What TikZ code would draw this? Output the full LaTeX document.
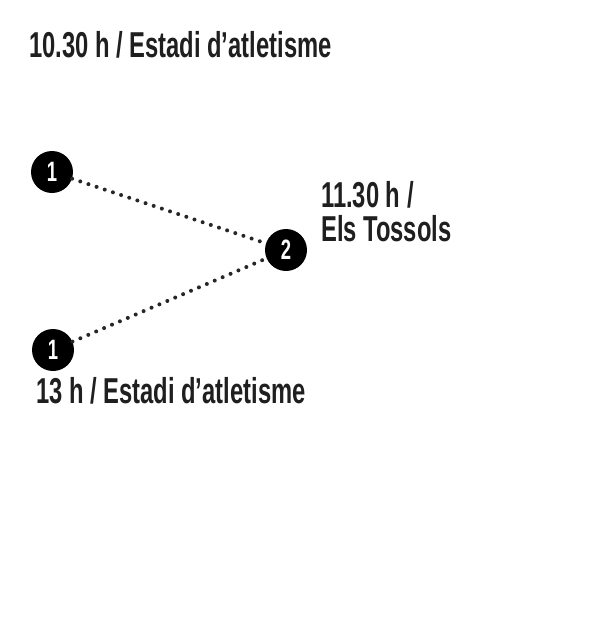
\documentclass[tikz,border=0pt]{standalone}
\usepackage{fontspec}
\setmainfont{Liberation Sans}[FakeStretch=0.66,UprightFont=*-Bold]
\newfontfamily\numfont{Liberation Sans}[FakeStretch=0.66,UprightFont=*-Bold]
\begin{document}
\begin{tikzpicture}[x=1pt,y=-1pt,
  stop/.style={circle,fill=black,minimum size=42pt,inner sep=0pt,text=white,font=\numfont\fontsize{28}{28}\selectfont},
  lbl/.style={anchor=base west,inner sep=0pt,font=\fontsize{36}{34}\selectfont,text=black!88},
  path/.style={line width=4pt,line cap=round,dash pattern=on 0pt off 8.6pt,black!85}]
\useasboundingbox (0,0) rectangle (600,630);
\node[stop] (a) at (52,172) {1};
\node[stop] (b) at (286,250) {2};
\node[stop] (c) at (53,350) {1};
\draw[path] (a) -- (b);
\draw[path] (c) -- (b);
\node[lbl] (t1) at (29,57) {10.30 h / Estadi d’atletisme};
\node[lbl,align=left] (t2) at (321,241) {11.30 h /\\Els Tossols};
\node[lbl] (t3) at (36,403) {13 h / Estadi d’atletisme};
\end{tikzpicture}
\end{document}
